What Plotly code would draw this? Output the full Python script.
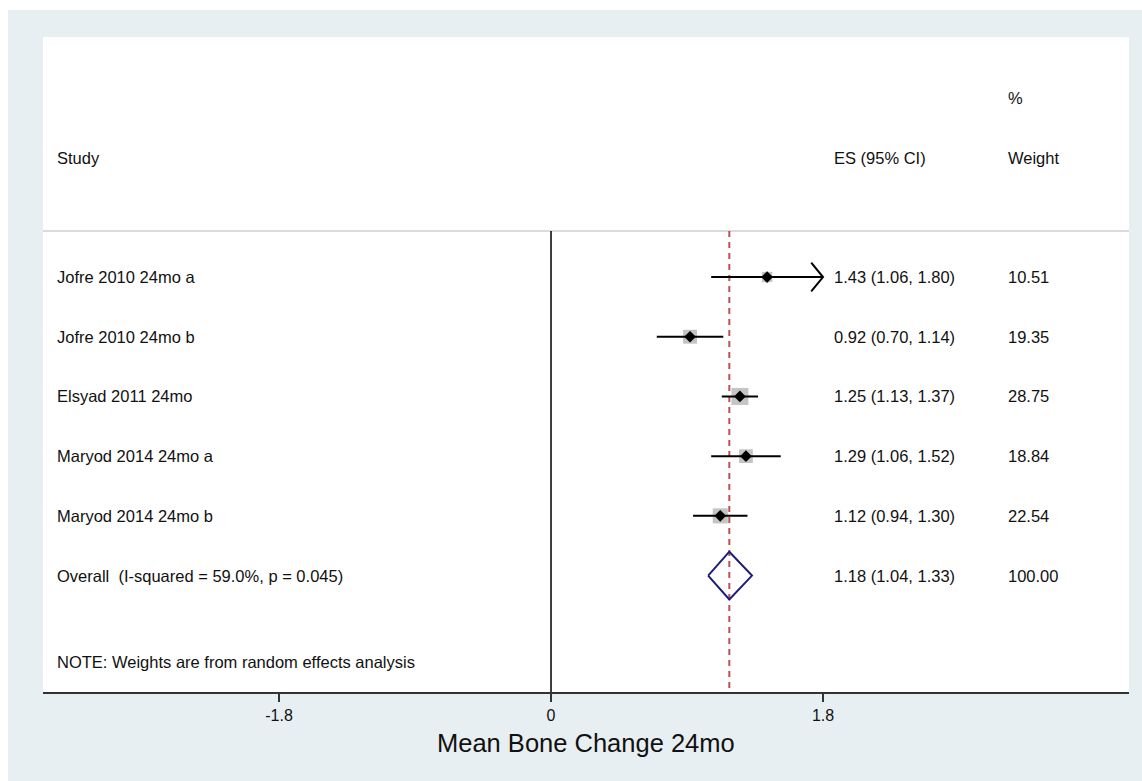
import plotly.graph_objects as go

# ---- data -------------------------------------------------------------
studies = [
    "Jofre 2010 24mo a",
    "Jofre 2010 24mo b",
    "Elsyad 2011 24mo",
    "Maryod 2014 24mo a",
    "Maryod 2014 24mo b",
]
es = [1.43, 0.92, 1.25, 1.29, 1.12]
ci_low = [1.06, 0.70, 1.13, 1.06, 0.94]
ci_high = [1.80, 1.14, 1.37, 1.52, 1.30]
weights = [10.51, 19.35, 28.75, 18.84, 22.54]

overall_label = "Overall  (I-squared = 59.0%, p = 0.045)"
overall_es = 1.18
overall_low = 1.04
overall_high = 1.33
overall_weight = 100.00

tick_vals = [-1.8, 0, 1.8]
tick_text = ["-1.8", "0", "1.8"]
x_title = "Mean Bone Change 24mo"
note = "NOTE: Weights are from random effects analysis"

# ---- layout constants -------------------------------------------------
FONT = "Liberation Sans, Arial, Helvetica, sans-serif"
TXT = "#111111"
OUTER_BG = "#e8eff2"
X_RANGE = [-3.362, 3.825]
Y_RANGE = [7.95, -3.02]          # rows run top to bottom
X_MAX_CI = tick_vals[-1]         # CIs beyond the last tick are clipped with an arrow
ROW_TOP = 0.23                    # header rule / start of reference lines
X_STUDY = -3.283
X_ES = 1.86
X_WT = 3.012
FS = 16.5

rows = list(range(1, len(studies) + 1))
overall_row = len(studies) + 1

fig = go.Figure()

# weight squares (area proportional to weight)
sizes = [17 * (w / max(weights)) ** 0.5 for w in weights]
fig.add_trace(go.Scatter(
    x=es, y=rows, mode="markers",
    marker=dict(symbol="square", size=sizes, color="#ababab", line=dict(width=0)),
    hoverinfo="skip", showlegend=False,
))

# confidence intervals
cx, cy = [], []
for lo, hi, r in zip(ci_low, ci_high, rows):
    cx += [lo, min(hi, X_MAX_CI), None]
    cy += [r, r, None]
fig.add_trace(go.Scatter(
    x=cx, y=cy, mode="lines", line=dict(color="black", width=2),
    hoverinfo="skip", showlegend=False,
))

# open arrow heads for clipped intervals
ax, ay = [], []
for hi, r in zip(ci_high, rows):
    if hi >= X_MAX_CI:
        ax += [X_MAX_CI - 0.078, X_MAX_CI, X_MAX_CI - 0.078, None]
        ay += [r - 0.24, r, r + 0.24, None]
fig.add_trace(go.Scatter(
    x=ax, y=ay, mode="lines", line=dict(color="black", width=2),
    hoverinfo="skip", showlegend=False,
))

# point estimates
fig.add_trace(go.Scatter(
    x=es, y=rows, mode="markers",
    marker=dict(symbol="diamond", size=9, color="black", line=dict(width=0)),
    hoverinfo="skip", showlegend=False,
))

# pooled estimate diamond
h = 0.4
fig.add_trace(go.Scatter(
    x=[overall_low, overall_es, overall_high, overall_es, overall_low],
    y=[overall_row, overall_row - h, overall_row, overall_row + h, overall_row],
    mode="lines", line=dict(color="#1e1e78", width=2),
    hoverinfo="skip", showlegend=False,
))

# reference lines and header rule
shapes = [
    dict(type="line", xref="x", yref="y", x0=0, x1=0, y0=ROW_TOP, y1=Y_RANGE[0],
         line=dict(color="black", width=1.5), layer="below"),
    dict(type="line", xref="x", yref="y", x0=overall_es, x1=overall_es,
         y0=ROW_TOP, y1=Y_RANGE[0],
         line=dict(color="#bf4f55", width=2, dash="6px,5px"), layer="below"),
    dict(type="line", xref="paper", yref="y", x0=0, x1=1, y0=ROW_TOP, y1=ROW_TOP,
         line=dict(color="#cfcfcf", width=1.5), layer="below"),
    # white page edge along the top and left of the panel
    dict(type="rect", xref="paper", yref="paper", x0=-0.05, x1=1.05,
         y0=1.0 + 27 / 655, y1=1.2, fillcolor="white", line=dict(width=0)),
    dict(type="rect", xref="paper", yref="paper", x0=-0.05, x1=-35 / 1086,
         y0=-0.2, y1=1.2, fillcolor="white", line=dict(width=0)),
]

# text columns
ann = []
def txt(x, y, s, size=FS, anchor="left", xref="x", yref="y"):
    ann.append(dict(x=x, y=y, xref=xref, yref=yref, text=s, showarrow=False,
                    xanchor=anchor, yanchor="middle",
                    font=dict(family=FONT, size=size, color=TXT)))

txt(X_STUDY, -1, "Study")
txt(X_ES, -1, "ES (95% CI)")
txt(X_WT, -2, "%")
txt(X_WT, -1, "Weight")
for s, e, lo, hi, w, r in zip(studies, es, ci_low, ci_high, weights, rows):
    txt(X_STUDY, r, s)
    txt(X_ES, r, f"{e:.2f} ({lo:.2f}, {hi:.2f})")
    txt(X_WT, r, f"{w:.2f}")
txt(X_STUDY, overall_row, overall_label)
txt(X_ES, overall_row, f"{overall_es:.2f} ({overall_low:.2f}, {overall_high:.2f})")
txt(X_WT, overall_row, f"{overall_weight:.2f}")
txt(X_STUDY, 7.45, note)
txt(0.5, -51 / 655, x_title, size=25.5, anchor="center", xref="paper", yref="paper")

fig.update_layout(
    width=1142, height=781, autosize=False,
    margin=dict(l=43, r=13, t=37, b=89, pad=0),
    paper_bgcolor=OUTER_BG, plot_bgcolor="white",
    shapes=shapes, annotations=ann, showlegend=False,
    font=dict(family=FONT, color=TXT),
    xaxis=dict(range=X_RANGE, tickvals=tick_vals, ticktext=tick_text,
               ticks="outside", ticklen=8, tickwidth=1.5, tickcolor="#333333",
               showline=True, linecolor="#333333", linewidth=2,
               showgrid=False, zeroline=False, fixedrange=True,
               tickfont=dict(family=FONT, size=16, color=TXT)),
    yaxis=dict(range=Y_RANGE, visible=False, showgrid=False, zeroline=False,
               fixedrange=True),
)

fig.write_html("out.html")
